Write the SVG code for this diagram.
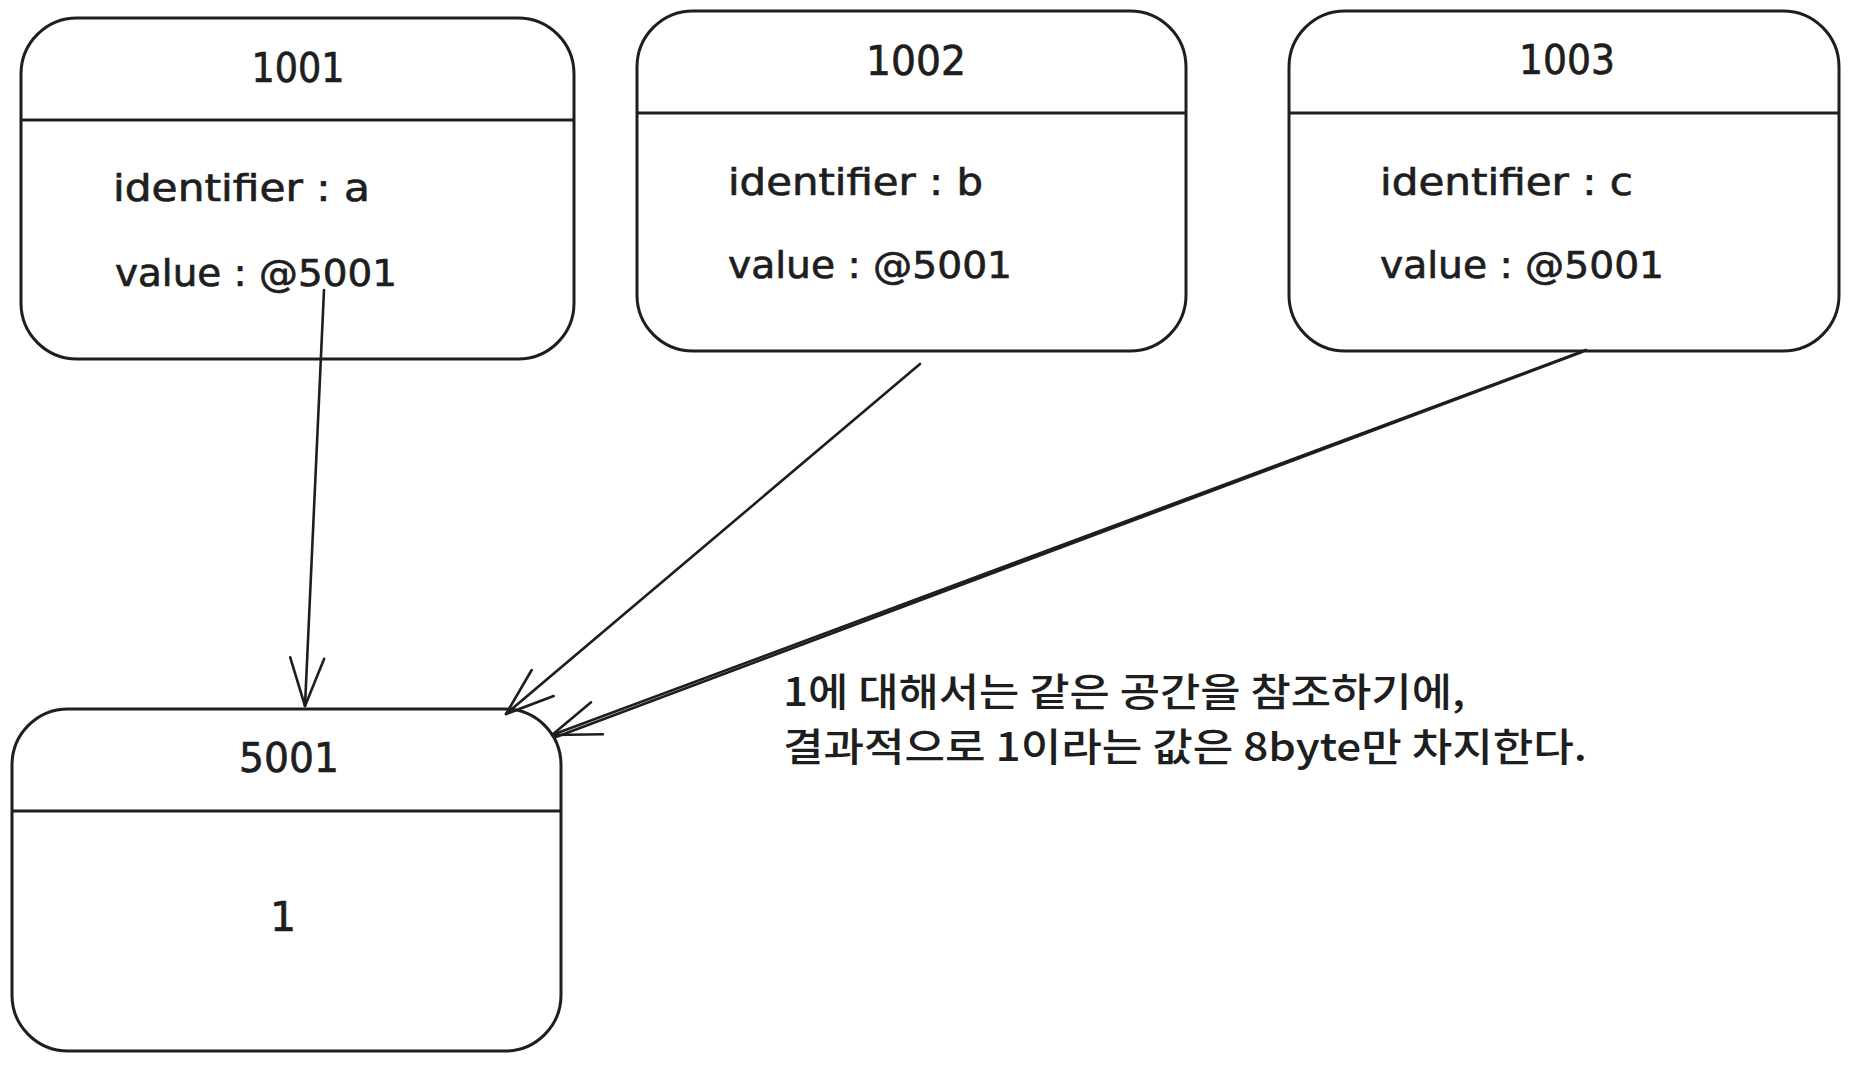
<svg xmlns="http://www.w3.org/2000/svg" width="1860" height="1066" viewBox="0 0 1860 1066">
  <style>
    .box { fill: #ffffff; stroke: #1e1e1e; stroke-width: 3; }
    .div { stroke: #1e1e1e; stroke-width: 3; }
    .t { font-family: "DejaVu Sans", "Liberation Sans", sans-serif; fill: #1e1e1e; stroke: #1e1e1e; stroke-width: 0.7; }
    .title { font-size: 41px; text-anchor: middle; }
    .body { font-size: 38px; }
    .note { font-family: "Noto Sans CJK KR", "Noto Sans", sans-serif; font-size: 39px; font-weight: 500; fill: #1e1e1e; }
    .conn { fill: none; stroke: #1e1e1e; stroke-width: 2.6; stroke-linecap: round; }
  </style>
  <defs>
    <marker id="arrow" markerUnits="userSpaceOnUse" viewBox="0 0 52 40" refX="50" refY="20" markerWidth="52" markerHeight="40" orient="auto">
      <path d="M2,3 L50,20 L2,37" fill="none" stroke="#1e1e1e" stroke-width="2.6" stroke-linecap="round" stroke-linejoin="round"/>
    </marker>
  </defs>
  <rect width="1860" height="1066" fill="#ffffff"/>

  <g id="node-1001">
    <rect class="box" x="21" y="18" width="553" height="341" rx="56" ry="56"/>
    <line class="div" x1="22" y1="120" x2="573" y2="120"/>
    <text class="t title" x="298" y="82" textLength="93" lengthAdjust="spacingAndGlyphs">1001</text>
    <text class="t body" x="113" y="201" textLength="257" lengthAdjust="spacingAndGlyphs">identifier : a</text>
    <text class="t body" x="115" y="286" textLength="282" lengthAdjust="spacingAndGlyphs">value : @5001</text>
  </g>

  <g id="node-1002">
    <rect class="box" x="637" y="11" width="549" height="340" rx="56" ry="56"/>
    <line class="div" x1="638" y1="113" x2="1185" y2="113"/>
    <text class="t title" x="916" y="75" textLength="100" lengthAdjust="spacingAndGlyphs">1002</text>
    <text class="t body" x="728" y="195" textLength="255" lengthAdjust="spacingAndGlyphs">identifier : b</text>
    <text class="t body" x="728" y="278" textLength="284" lengthAdjust="spacingAndGlyphs">value : @5001</text>
  </g>

  <g id="node-1003">
    <rect class="box" x="1289" y="11" width="550" height="340" rx="56" ry="56"/>
    <line class="div" x1="1290" y1="113" x2="1838" y2="113"/>
    <text class="t title" x="1567" y="74" textLength="96" lengthAdjust="spacingAndGlyphs">1003</text>
    <text class="t body" x="1380" y="195" textLength="253" lengthAdjust="spacingAndGlyphs">identifier : c</text>
    <text class="t body" x="1380" y="278" textLength="284" lengthAdjust="spacingAndGlyphs">value : @5001</text>
  </g>

  <g id="node-5001">
    <rect class="box" x="12" y="709" width="549" height="342" rx="56" ry="56"/>
    <line class="div" x1="13" y1="811" x2="560" y2="811"/>
    <text class="t title" x="289" y="772" textLength="100" lengthAdjust="spacingAndGlyphs">5001</text>
    <text class="t title" x="283" y="931">1</text>
  </g>

  <g id="connectors">
    <path class="conn" d="M324,290 L305,706" marker-end="url(#arrow)"/>
    <path class="conn" d="M920,364 L506,714" marker-end="url(#arrow)"/>
    <path class="conn" d="M1586,350 L552,735" marker-end="url(#arrow)"/>
    <path class="conn" d="M1582,352 L556,737" stroke-width="1.4"/>
  </g>

  <g id="note">
    <text class="note" x="783" y="706" textLength="682" lengthAdjust="spacingAndGlyphs">1에 대해서는 같은 공간을 참조하기에,</text>
    <text class="note" x="783" y="761" textLength="804" lengthAdjust="spacingAndGlyphs">결과적으로 1이라는 값은 8byte만 차지한다.</text>
  </g>
</svg>
